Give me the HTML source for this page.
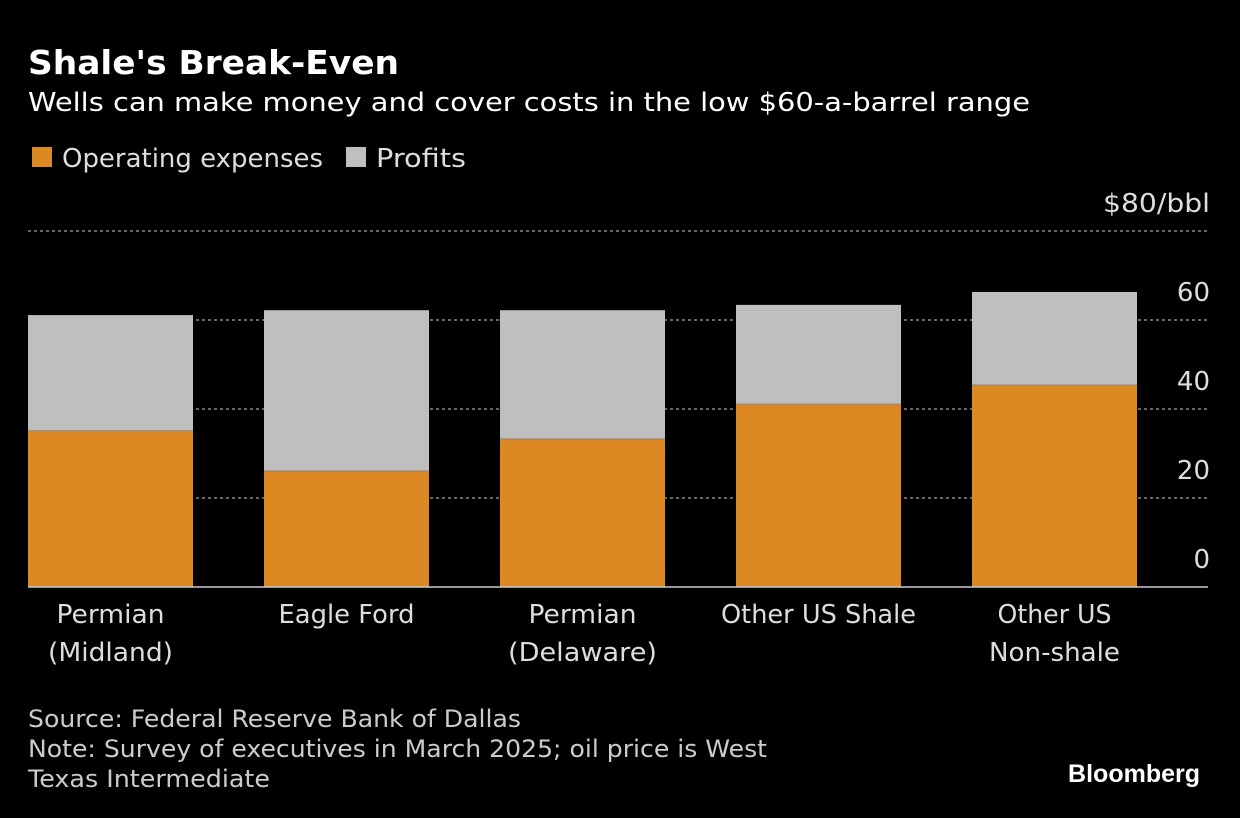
<!DOCTYPE html>
<html><head><meta charset="utf-8"><style>
html,body{margin:0;padding:0;background:#000;}
svg{display:block;font-family:"DejaVu Sans","Liberation Sans",sans-serif;}
</style></head><body>
<svg width="1240" height="818" viewBox="0 0 1240 818">
<text x="28" y="74" fill="#fff" font-size="33" font-weight="bold" textLength="371" lengthAdjust="spacingAndGlyphs">Shale's Break-Even</text>
<text x="28" y="111" fill="#fff" font-size="26" textLength="1002" lengthAdjust="spacingAndGlyphs">Wells can make money and cover costs in the low $60-a-barrel range</text>
<g>
<rect x="32" y="147" width="20" height="20" fill="#dc8823"/>
<text x="62" y="167" fill="#ddd" font-size="26" textLength="261" lengthAdjust="spacingAndGlyphs">Operating expenses</text>
<rect x="346" y="147" width="20" height="20" fill="#bfbfbf"/>
<text x="376" y="167" fill="#ddd" font-size="26" textLength="90" lengthAdjust="spacingAndGlyphs">Profits</text>
</g>
<g id="grid"></g>
<g id="bars"></g>
<g id="labels"></g>
<line x1="28" x2="1208" y1="587" y2="587" stroke="#ccc" stroke-width="1.5"/>
<text x="28" y="727" fill="#ccc" font-size="24" textLength="493" lengthAdjust="spacingAndGlyphs">Source: Federal Reserve Bank of Dallas</text>
<text x="28" y="757" fill="#ccc" font-size="24" textLength="739" lengthAdjust="spacingAndGlyphs">Note: Survey of executives in March 2025; oil price is West</text>
<text x="28" y="787" fill="#ccc" font-size="24" textLength="242" lengthAdjust="spacingAndGlyphs">Texas Intermediate</text>
<text x="1200" y="782" fill="#fff" font-size="25" font-weight="bold" text-anchor="end" font-family="Liberation Sans, sans-serif">Bloomberg</text>
</svg>
<script>
const categories=[["Permian","(Midland)"],["Eagle Ford"],["Permian","(Delaware)"],["Other US Shale"],["Other US","Non-shale"]];
const opex=[35.1,26.1,33.3,41.1,45.4];
const totals=[61.1,62.2,62.2,63.4,66.3];
const ticks=[0,20,40,60,80];
const tickLabels=["0","20","40","60","$80/bbl"];
const labelWidths={"Permian":108,"(Midland)":125,"Eagle Ford":136,"(Delaware)":149,"Other US Shale":195,"Other US":114,"Non-shale":131};
const NS="http://www.w3.org/2000/svg";
const y=v=>587-v*4.45;
const x=i=>28+i*236;
const bw=165;
function mk(t,a,p){const e=document.createElementNS(NS,t);for(const k in a)e.setAttribute(k,a[k]);p.appendChild(e);return e;}
const g=document.getElementById('grid'),b=document.getElementById('bars'),l=document.getElementById('labels');
ticks.forEach((t,i)=>{
 if(t>0){const ln=mk('line',{x1:28,x2:1208,y1:y(t),y2:y(t),stroke:'#888','stroke-width':1.5,'stroke-dasharray':'3,3'},g);
 
 }
 const tx=mk('text',{x:1210,y:y(t)-19,fill:'#ddd','font-size':26,'text-anchor':'end'},g);
 tx.textContent=tickLabels[i];
 if(tickLabels[i].length>3){tx.setAttribute('textLength',107);tx.setAttribute('lengthAdjust','spacingAndGlyphs');}
 
 
});
categories.forEach((c,i)=>{
 const p=mk('rect',{x:x(i),y:y(totals[i]),width:bw,height:y(opex[i])-y(totals[i]),fill:'#bfbfbf'},b);
 
 
 const o=mk('rect',{x:x(i),y:y(opex[i]),width:bw,height:587-y(opex[i]),fill:'#dc8823'},b);
 
 
 const sep=mk('line',{x1:x(i),x2:x(i)+bw,y1:y(opex[i]),y2:y(opex[i]),stroke:'#888','stroke-width':1},b);
 
 
 c.forEach((s,j)=>{
  const t=mk('text',{x:x(i)+bw/2,y:623+j*38,fill:'#ddd','font-size':26,'text-anchor':'middle',textLength:labelWidths[s]||s.length*13.5,lengthAdjust:'spacingAndGlyphs'},l);
  t.textContent=s;
  
  
 });
});
</script>
</body></html>
